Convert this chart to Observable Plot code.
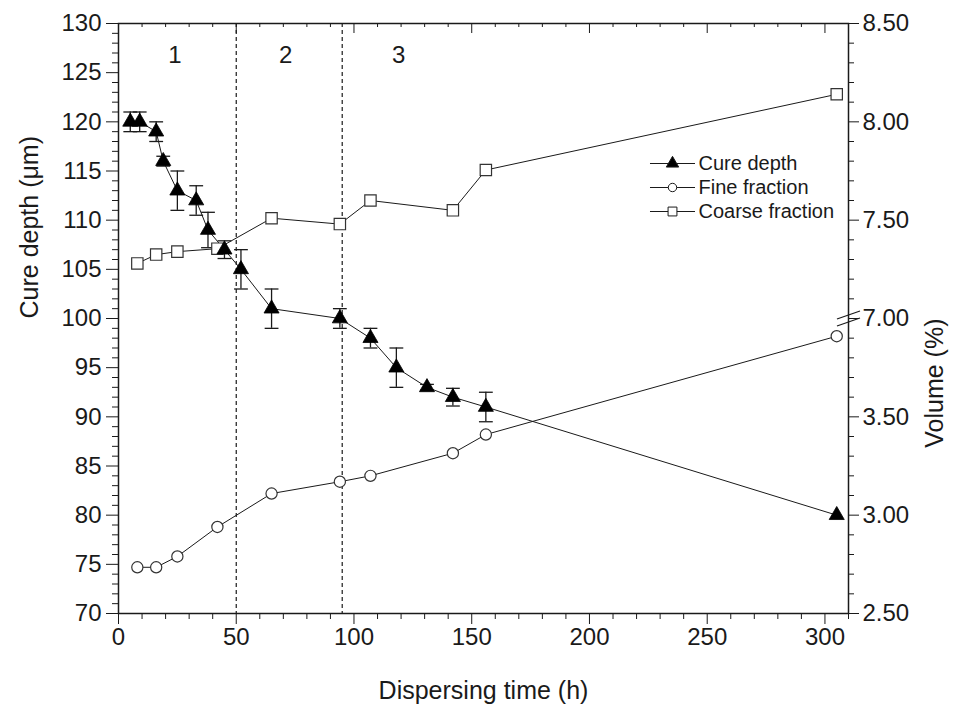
<!DOCTYPE html>
<html><head><meta charset="utf-8">
<script src="https://cdn.jsdelivr.net/npm/d3@7"></script>
<script src="https://cdn.jsdelivr.net/npm/@observablehq/plot@0.6"></script>
<style>html,body{margin:0;padding:0;background:#fff}#chart{width:956px;height:705px}</style>
</head><body><div id="chart"></div>
<script>
// ---- data ----
const cureTime  = [5, 9, 16, 19, 25, 33, 38, 45, 52, 65, 94, 107, 118, 131, 142, 156, 305];
const cureDepth = [120, 120, 119, 116, 113, 112, 109, 107, 105, 101, 100, 98, 95, 93, 92, 91, 80];
const cureErr   = [1, 1, 1, 0.5, 2, 1.5, 1.8, 0.9, 2, 2, 1, 1, 2, 0.3, 0.9, 1.5, 0];
const fracTime  = [8, 16, 25, 42, 65, 94, 107, 142, 156, 305];
const fineVol   = [2.735, 2.735, 2.79, 2.94, 3.11, 3.17, 3.20, 3.315, 3.41, 3.91];
const coarseVol = [7.28, 7.325, 7.34, 7.355, 7.51, 7.48, 7.60, 7.55, 7.755, 8.14];
const phaseLines = [50, 95];
const phaseLabels = ["1", "2", "3"];
const phaseLabelX = [24, 71, 119];
const phaseLabelY = 126.8;
const leftMajor = [70, 75, 80, 85, 90, 95, 100, 105, 110, 115, 120, 125, 130];
const xMajor = [0, 50, 100, 150, 200, 250, 300];
const rightMajorLabels = ["2.50", "3.00", "3.50", "7.00", "7.50", "8.00", "8.50"];
const legendNames = ["Cure depth", "Fine fraction", "Coarse fraction"];
const legendSymbols = ["triangle", "circle", "square"];

// broken right axis: lower segment 2.5–4.0, upper segment 7.0–8.5, mapped onto left units
const volToLeft = v => v < 5 ? 70 + (v - 2.5) * 20 : 100 + (v - 7) * 20;
const rightMajor = rightMajorLabels.map(s => volToLeft(+s));
const rightMinor = d3.range(70, 131, 2).filter(v => !rightMajor.includes(v));
const leftMinor = d3.range(70, 131, 1).filter(v => !leftMajor.includes(v));
const xMinor = d3.range(0, 311, 10).filter(v => !xMajor.includes(v));

const cureIdx = d3.range(cureTime.length);
const fracIdx = d3.range(fracTime.length);

const capSym = {draw(ctx, size) {const w = Math.sqrt(size); ctx.moveTo(-w, 0); ctx.lineTo(w, 0);}};
const breakSym = {draw(ctx, size) {const w = Math.sqrt(size); ctx.moveTo(-w, w * 0.35); ctx.lineTo(w, -w * 0.35);}};
const ink = "#1a1a1a";
const frameH = 705 - 23 - 92;

const legendMarks = legendNames.flatMap((name, i) => {
  const dy = 140 + i * 24;
  return [
    Plot.dot([name], {frameAnchor: "top-left", dx: 554, dy, symbol: capSym, r: 12.7, stroke: ink, strokeWidth: 1}),
    Plot.dot([name], {frameAnchor: "top-left", dx: 554, dy, symbol: legendSymbols[i],
      r: legendSymbols[i] === "triangle" ? 4.6 : legendSymbols[i] === "circle" ? 4.2 : 5,
      fill: legendSymbols[i] === "triangle" ? "black" : "white", stroke: ink, strokeWidth: 1}),
    Plot.text([name], {frameAnchor: "top-left", dx: 580, dy, text: d => d, textAnchor: "start", lineAnchor: "middle", fontSize: 20, fill: ink})
  ];
});

const chart = Plot.plot({
  width: 956, height: 705,
  marginLeft: 118, marginRight: 108, marginTop: 23, marginBottom: 92,
  x: {domain: [0, 310]},
  y: {domain: [70, 130]},
  style: {fontFamily: "'Liberation Sans', Arial, sans-serif", color: ink, background: "#fff", overflow: "visible"},
  marks: [
    Plot.ruleX(phaseLines, {stroke: ink, strokeWidth: 1.2, strokeDasharray: "4,3"}),
    Plot.text(phaseLabels, {x: (d, i) => phaseLabelX[i], y: () => phaseLabelY, text: d => d, fontSize: 24, fill: ink}),
    // series lines
    Plot.line(fracIdx, {x: i => fracTime[i], y: i => volToLeft(coarseVol[i]), stroke: ink, strokeWidth: 1}),
    Plot.line(fracIdx, {x: i => fracTime[i], y: i => volToLeft(fineVol[i]), stroke: ink, strokeWidth: 1}),
    Plot.line(cureIdx, {x: i => cureTime[i], y: i => cureDepth[i], stroke: ink, strokeWidth: 1}),
    // error bars
    Plot.ruleX(cureIdx.filter(i => cureErr[i] > 0), {x: i => cureTime[i], y1: i => cureDepth[i] - cureErr[i], y2: i => cureDepth[i] + cureErr[i], stroke: ink, strokeWidth: 1.3}),
    Plot.dot(cureIdx.filter(i => cureErr[i] > 0), {x: i => cureTime[i], y: i => cureDepth[i] + cureErr[i], symbol: capSym, r: 3.9, stroke: ink, strokeWidth: 1.3}),
    Plot.dot(cureIdx.filter(i => cureErr[i] > 0), {x: i => cureTime[i], y: i => cureDepth[i] - cureErr[i], symbol: capSym, r: 3.9, stroke: ink, strokeWidth: 1.3}),
    // markers
    Plot.dot(fracIdx, {x: i => fracTime[i], y: i => volToLeft(coarseVol[i]), symbol: "square", r: 6.4, fill: "white", stroke: "#333", strokeWidth: 1.2}),
    Plot.dot(fracIdx, {x: i => fracTime[i], y: i => volToLeft(fineVol[i]), symbol: "circle", r: 5.6, fill: "white", stroke: "#333", strokeWidth: 1.2}),
    Plot.dot(cureIdx, {x: i => cureTime[i], y: i => cureDepth[i], symbol: "triangle", r: 5.6, fill: "black", stroke: "black", strokeWidth: 0.8}),
    // axes: left
    Plot.axisY(leftMinor, {anchor: "left", tickSize: 6, tickFormat: () => "", label: null, stroke: ink}),
    Plot.axisY(leftMajor, {anchor: "left", tickSize: 12, tickPadding: 5, fontSize: 24, label: null, stroke: ink}),
    // bottom
    Plot.axisX(xMinor, {anchor: "bottom", tickSize: 6, tickFormat: () => "", label: null, stroke: ink}),
    Plot.axisX(xMajor, {anchor: "bottom", tickSize: 11, tickPadding: 3, fontSize: 24, label: null, stroke: ink}),
    // top inward ticks
    Plot.tickX(xMinor, {x: d => d, insetBottom: frameH - 4, stroke: ink}),
    Plot.tickX(xMajor, {x: d => d, insetBottom: frameH - 10, stroke: ink}),
    // right broken axis
    Plot.axisY(rightMinor, {anchor: "right", tickSize: 5, tickFormat: () => "", label: null, stroke: ink}),
    Plot.axisY(rightMajor, {anchor: "right", tickSize: 10, tickPadding: 4, fontSize: 24, label: null, stroke: ink,
      tickFormat: (d) => rightMajorLabels[rightMajor.indexOf(d)]}),
    Plot.frame({stroke: ink, strokeWidth: 1.5}),
    // axis break marks
    Plot.dot([7], {x: () => 310, y: d => volToLeft(d), dy: -3.5, symbol: breakSym, r: 6.5, stroke: ink, strokeWidth: 1.2}),
    Plot.dot([7], {x: () => 310, y: d => volToLeft(d), dy: 3.5, symbol: breakSym, r: 6.5, stroke: ink, strokeWidth: 1.2}),
    // axis titles
    Plot.text(["Cure depth (\u03bcm)"], {frameAnchor: "left", dx: -89, rotate: -90, lineAnchor: "middle", text: d => d, fontSize: 25, fill: ink}),
    Plot.text(["Volume (%)"], {frameAnchor: "right", dx: 86, rotate: -90, lineAnchor: "middle", text: d => d, fontSize: 25, fill: ink}),
    Plot.text(["Dispersing time (h)"], {frameAnchor: "bottom", dy: 77, lineAnchor: "middle", text: d => d, fontSize: 25, fill: ink}),
    ...legendMarks
  ]
});
document.getElementById("chart").appendChild(chart);
</script>
</body></html>
